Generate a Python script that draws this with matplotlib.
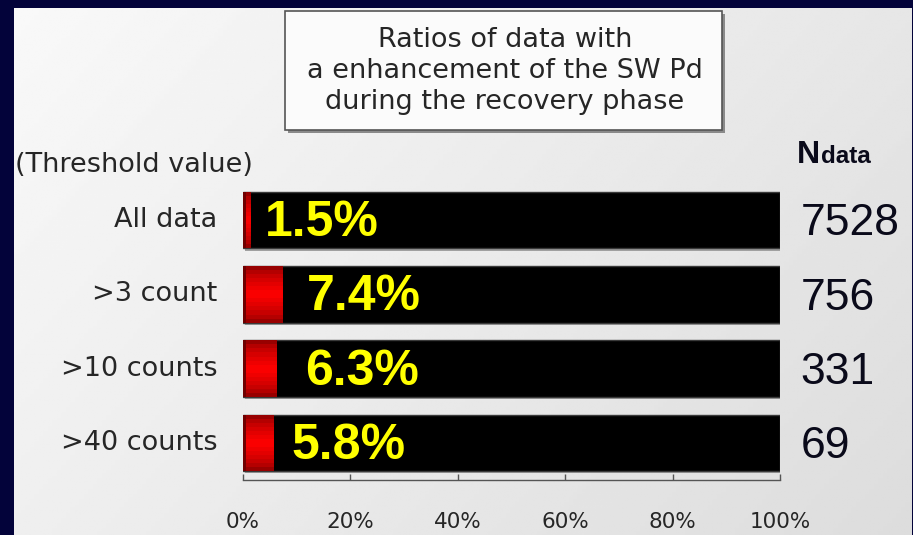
import numpy as np
import matplotlib
matplotlib.use("Agg")
import matplotlib.pyplot as plt
from matplotlib.patches import Rectangle

# ---- data ----
categories = ["All data", ">3 count", ">10 counts", ">40 counts"]
ratios = [1.5, 7.4, 6.3, 5.8]          # percent
ndata = [7528, 756, 331, 69]
tick_values = [0, 20, 40, 60, 80, 100]
tick_labels = ["0%", "20%", "40%", "60%", "80%", "100%"]
title_lines = ["Ratios of data with", "a enhancement of the SW Pd", "during the recovery phase"]

W, H = 913, 535
fig = plt.figure(figsize=(W / 100, H / 100), dpi=100)
fig.patch.set_facecolor("#03033a")

def fx(px):
    return px / W

def fy(py):
    return 1 - py / H

# ---- light panel with gradient ----
bg = fig.add_axes([fx(14), 0, fx(911 - 14), 1 - 8 / H])
gx, gy = np.meshgrid(np.linspace(0, 1, 200), np.linspace(0, 1, 200))
grad = 0.975 - 0.11 * (0.65 * gx + 0.35 * gy)
bg.imshow(grad, cmap="gray", vmin=0, vmax=1, aspect="auto", extent=[0, 1, 1, 0])
bg.set_axis_off()

# ---- main bar axes ----
ax = fig.add_axes([fx(243), fy(480), fx(780 - 243), (480 - 180) / H])
ax.set_facecolor("none")
y = np.arange(len(categories))
bh = 0.76

# black full bars with grey shadow edge
ax.barh(y + 0.03, [100] * len(y), height=bh, left=0.4, color="#a0a0a0", zorder=1)
ax.barh(y, [100] * len(y), height=bh, color="black", edgecolor="#3a3a3a", linewidth=1, zorder=2)

# red bars with vertical shading
nsl = 14
for k in range(nsl):
    t = (k + 0.5) / nsl
    shade = 1 - abs(t - 0.5) * 2  # 0 at edges, 1 at middle
    r = 0.45 + 0.55 * shade ** 0.5
    col = (r, 0.0, 0.0)
    off = -bh / 2 + k * bh / nsl
    ax.barh(y + off + bh / nsl / 2, ratios, height=bh / nsl, color=col, linewidth=0, zorder=3)
# dark left edge of red bars
ax.barh(y, [0.6] * len(y), height=bh, color="#700000", linewidth=0, zorder=4)

# percentage labels
label_offsets = [2.6, 4.5, 5.2, 3.3]
for yi, v, o in zip(y, ratios, label_offsets):
    ax.text(v + o, yi + 0.04, f"{v}%", color="#ffff00", fontsize=36, fontweight="bold",
            family="Liberation Sans", va="center", ha="left", zorder=5)

# category labels
for yi, c in zip(y, categories):
    ax.text(-0.048, yi, c, transform=ax.get_yaxis_transform(), ha="right", va="center",
            fontsize=19.5, color="#262626", family="DejaVu Sans")

# N data numbers
for yi, n in zip(y, ndata):
    ax.text(1.038, yi + 0.05, str(n), transform=ax.get_yaxis_transform(), ha="left", va="center",
            fontsize=32, color="#0a0a1a", family="Liberation Sans")

ax.set_xlim(0, 100)
ax.set_ylim(3.5, -0.54)
ax.set_yticks([])
ax.set_xticks(tick_values)
ax.set_xticklabels(tick_labels, fontsize=15.5, color="#262626", family="DejaVu Sans")
ax.tick_params(axis="x", direction="in", length=4.5, width=1, color="#555555", pad=23)
for s in ["top", "left", "right"]:
    ax.spines[s].set_visible(False)
ax.spines["bottom"].set_color("#555555")
ax.spines["bottom"].set_linewidth(1)

# ---- title box ----
fig.patches.append(Rectangle((fx(288), fy(133)), fx(725 - 288), (133 - 14) / H,
                             transform=fig.transFigure, facecolor="#8a8a8a", edgecolor="none", zorder=2))
fig.patches.append(Rectangle((fx(285), fy(130)), fx(725 - 288), (130 - 11) / H,
                             transform=fig.transFigure, facecolor="#fbfbfb", edgecolor="#555555",
                             linewidth=1.2, zorder=3))
fig.text(fx(505), fy(71), "\n".join(title_lines), ha="center", va="center", fontsize=19.5,
         color="#262626", linespacing=1.25, family="DejaVu Sans", zorder=4)

# ---- header texts ----
fig.text(fx(15), fy(165), "(Threshold value)", ha="left", va="center", fontsize=19.5,
         color="#262626", family="DejaVu Sans")
fig.text(fx(797), fy(163), "N", ha="left", va="baseline", fontsize=23, fontweight="bold",
         color="#0a0a1a", family="Liberation Sans")
fig.text(fx(821), fy(163), "data", ha="left", va="baseline", fontsize=17.5, fontweight="bold",
         color="#0a0a1a", family="Liberation Sans")

fig.savefig("out.png", dpi=100, facecolor=fig.get_facecolor())
